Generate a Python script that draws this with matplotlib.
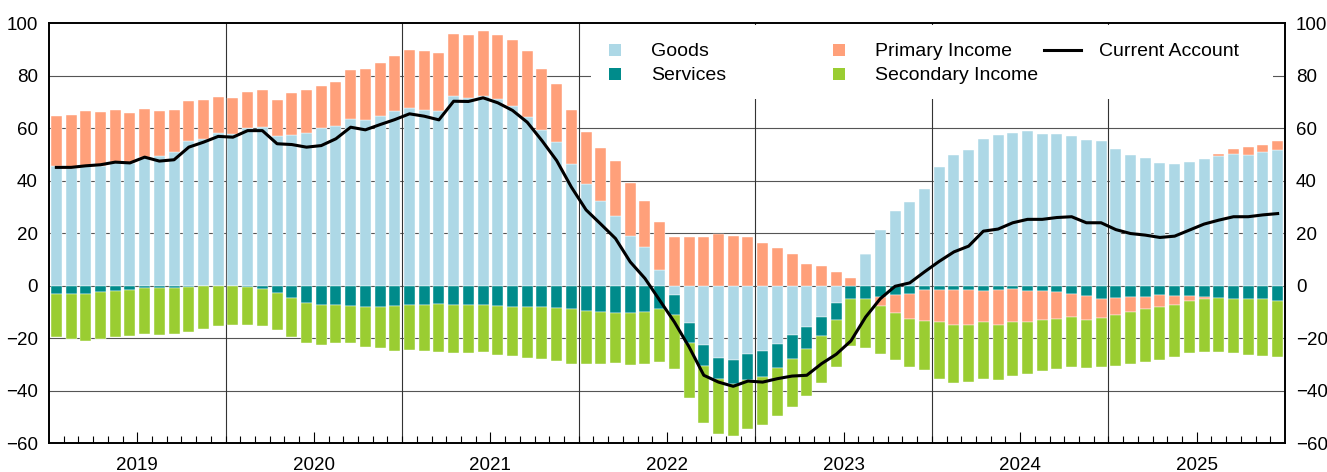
import numpy as np
import matplotlib
matplotlib.use('Agg')
import matplotlib.pyplot as plt
from matplotlib.lines import Line2D
from matplotlib.patches import Rectangle

plt.rcParams['font.family'] = ['Liberation Sans', 'DejaVu Sans']

# monthly values, Jan 2019 .. Dec 2025 (one row per year)
years = ['2019', '2020', '2021', '2022', '2023', '2024', '2025']

goods = [
    45.5, 44.7, 45.7, 45.5, 47.1, 46.7, 49.1, 49.4, 50.8, 55.0, 55.9, 58.2,
    57.8, 60.1, 60.3, 57.0, 57.4, 58.0, 59.9, 60.8, 63.4, 63.0, 64.6, 66.4,
    67.6, 66.7, 66.3, 72.3, 71.6, 72.1, 71.0, 68.3, 64.1, 59.3, 54.6, 46.2,
    38.5, 32.2, 26.6, 19.0, 14.6, 6.0, -3.6, -14.1, -22.8, -27.5, -28.5, -26.2,
    -25.1, -22.1, -18.8, -15.9, -12.0, -6.6, 0.0, 12.0, 21.2, 28.5, 31.8, 36.9,
    45.1, 49.7, 51.8, 55.9, 57.3, 58.2, 58.8, 57.7, 57.7, 56.9, 55.4, 54.9,
    52.0, 49.9, 48.5, 46.6, 46.3, 46.9, 48.3, 49.4, 50.2, 49.7, 51.0, 51.7]

services = [
    -3.1, -3.1, -3.1, -2.5, -2.0, -1.8, -1.0, -1.0, -0.8, -0.5, -0.3, -0.1,
    -0.1, -0.6, -1.5, -2.7, -4.6, -6.5, -7.6, -7.5, -7.8, -8.3, -8.0, -7.9,
    -7.6, -7.4, -7.1, -7.4, -7.6, -7.4, -7.9, -8.0, -8.3, -8.3, -8.6, -9.1,
    -9.8, -10.0, -10.6, -10.6, -10.0, -8.8, -7.5, -7.8, -8.0, -8.3, -8.9, -9.9,
    -9.8, -9.3, -9.3, -8.3, -7.1, -6.6, -5.2, -5.2, -4.3, -3.8, -3.1, -1.8,
    -1.8, -1.9, -1.8, -2.0, -1.8, -1.5, -2.0, -2.2, -2.5, -3.3, -3.9, -5.0,
    -4.7, -4.3, -4.2, -3.7, -3.9, -3.9, -4.4, -4.7, -5.0, -5.1, -5.3, -6.0]

primary_income = [
    19.1, 20.4, 20.7, 20.7, 19.6, 18.9, 18.2, 17.1, 16.0, 15.1, 14.7, 13.8,
    13.8, 13.7, 14.1, 13.7, 15.9, 16.4, 16.2, 16.9, 18.8, 19.4, 20.2, 21.1,
    22.3, 22.8, 22.1, 23.4, 24.0, 24.7, 24.6, 25.2, 25.2, 23.0, 22.0, 20.7,
    19.8, 20.3, 20.7, 19.9, 17.6, 18.3, 18.6, 18.3, 18.3, 19.8, 19.0, 18.3,
    16.3, 14.2, 12.1, 8.1, 7.6, 5.1, 2.8, 0.0, -3.5, -6.8, -9.6, -11.8,
    -12.1, -13.2, -13.3, -11.9, -13.3, -12.4, -11.9, -11.0, -10.3, -8.6, -9.1, -7.3,
    -6.5, -5.9, -4.8, -4.6, -3.6, -2.1, -0.8, 0.8, 1.8, 2.9, 2.7, 3.3]

secondary_income = [
    -16.6, -17.3, -17.9, -17.9, -17.7, -17.3, -17.6, -17.8, -17.6, -17.1, -16.2, -15.2,
    -14.9, -14.4, -13.8, -14.2, -14.9, -15.3, -14.9, -14.5, -14.2, -15.0, -15.9, -16.9,
    -16.9, -17.5, -18.4, -18.3, -18.2, -17.9, -18.4, -18.9, -19.3, -19.8, -20.2, -20.9,
    -20.0, -19.8, -19.0, -19.6, -19.8, -20.3, -20.8, -21.1, -21.6, -20.7, -20.0, -18.6,
    -18.3, -18.5, -18.3, -18.0, -18.1, -17.8, -18.0, -18.5, -18.2, -17.9, -18.3, -18.5,
    -21.9, -21.9, -21.6, -21.6, -21.0, -20.7, -20.0, -19.3, -19.0, -19.0, -18.5, -18.7,
    -19.5, -19.8, -20.0, -19.9, -19.9, -19.7, -20.0, -20.5, -20.8, -21.2, -21.4, -21.4]

current_account = [
    45.0, 45.0, 45.6, 46.0, 47.0, 46.7, 48.9, 47.4, 47.9, 52.7, 54.6, 56.8,
    56.5, 59.0, 59.0, 54.0, 53.7, 52.7, 53.3, 55.9, 60.3, 59.3, 61.3, 63.2,
    65.4, 64.5, 63.1, 70.2, 70.1, 71.5, 69.6, 66.7, 62.2, 55.2, 47.6, 37.5,
    28.8, 23.4, 17.9, 9.0, 2.7, -5.6, -13.9, -23.4, -34.2, -36.8, -38.4, -36.4,
    -36.8, -35.5, -34.5, -34.2, -29.8, -26.2, -21.1, -12.0, -5.0, -0.3, 1.0, 5.2,
    9.2, 12.8, 15.0, 20.7, 21.5, 23.9, 25.2, 25.2, 25.9, 26.2, 23.9, 23.9,
    21.3, 19.8, 19.2, 18.3, 18.8, 21.1, 23.4, 24.9, 26.2, 26.2, 26.9, 27.4]

series = [
    (goods, 'Goods', '#ADD8E6'),
    (services, 'Services', '#008B8B'),
    (primary_income, 'Primary Income', '#FFA07A'),
    (secondary_income, 'Secondary Income', '#9ACD32'),
]

fig = plt.figure(figsize=(13.27, 4.72), dpi=100)
ax = fig.add_axes([49 / 1327, 1 - 443 / 472, 1236 / 1327, 420 / 472])

n = len(goods)
x = np.arange(n) + 0.5

# stacked bars, positives above zero and negatives below
pos = np.zeros(n)
neg = np.zeros(n)
for vals, label, color in series:
    v = np.array(vals)
    bottom = np.where(v >= 0, pos, neg)
    ax.bar(x, v, width=0.75, bottom=bottom, color=color,
           edgecolor='white', linewidth=0.3, zorder=2)
    pos += np.where(v >= 0, v, 0)
    neg += np.where(v < 0, v, 0)

ax.plot(x, current_account, color='black', lw=2.2, zorder=3)

# grid
yticks = np.arange(-60, 101, 20)
for y in yticks[1:-1]:
    ax.axhline(y, color='#555555', lw=0.8, zorder=0.5)
for i in range(1, len(years)):
    ax.axvline(12 * i, color='#333333', lw=0.8, zorder=0.5)

ax.set_xlim(0, n)
ax.set_ylim(-60, 100)
ax.set_yticks(yticks)
ax.set_yticklabels([f'{v:d}'.replace('-', '\u2212') for v in yticks])
ax.tick_params(axis='y', left=False, right=False, labelleft=True,
               labelright=True, labelsize=13.5, pad=4.5)

ax.set_xticks([12 * i + 6 for i in range(len(years))])
ax.set_xticklabels(years)
ax.set_xticks(np.arange(1, n), minor=True)
ax.tick_params(axis='x', which='major', direction='in', length=8, width=0.8,
               labelsize=13.5, pad=10)
ax.tick_params(axis='x', which='minor', direction='in', length=5, width=0.8)

for s in ax.spines.values():
    s.set_linewidth(1.4)

# white box behind the legend
ax.add_patch(Rectangle((0.4385, 0.819), 0.552, 0.176, transform=ax.transAxes,
                       facecolor='white', edgecolor='none', zorder=1.5))

def square(color):
    return Line2D([], [], marker='s', markersize=8.6, markeredgewidth=0,
                  color=color, linestyle='none')

leg_kw = dict(loc='upper left', frameon=False, fontsize=14, labelspacing=0.33,
              borderpad=0, borderaxespad=0)
leg1 = ax.legend([square(series[0][2]), square(series[1][2])],
                 [series[0][1], series[1][1]], bbox_to_anchor=(0.4485, 0.953),
                 handlelength=1.2, handletextpad=1.25, **leg_kw)
ax.add_artist(leg1)
leg2 = ax.legend([square(series[2][2]), square(series[3][2])],
                 [series[2][1], series[3][1]], bbox_to_anchor=(0.6297, 0.953),
                 handlelength=1.2, handletextpad=1.25, **leg_kw)
ax.add_artist(leg2)
ax.legend([Line2D([], [], color='black', lw=2.2)], ['Current Account'],
          bbox_to_anchor=(0.805, 0.953), handlelength=1.9, handletextpad=0.93,
          **leg_kw)

fig.savefig('out.png', dpi=100)
